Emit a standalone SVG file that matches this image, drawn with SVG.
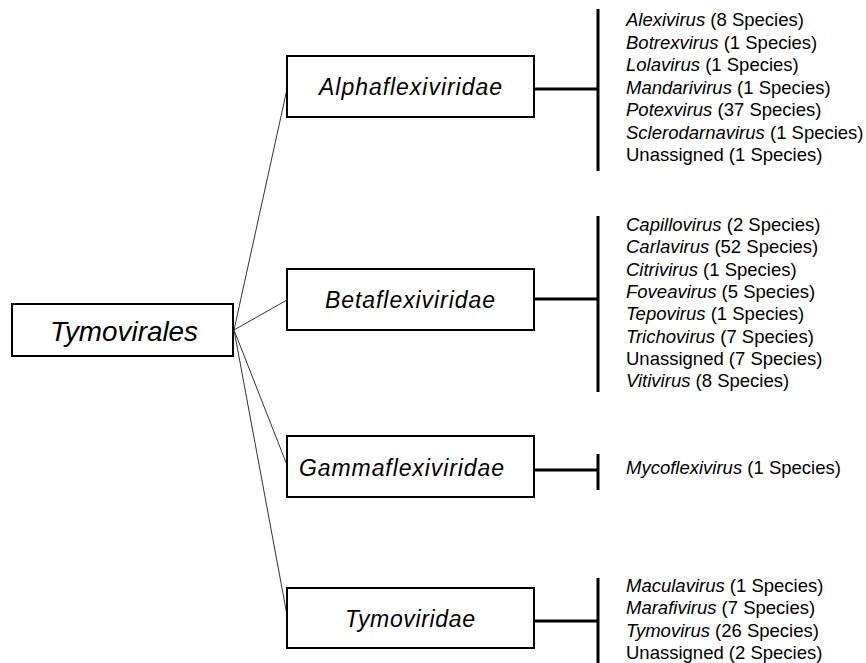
<svg xmlns="http://www.w3.org/2000/svg" width="866" height="663" viewBox="0 0 866 663">
<style>
.box{fill:#fff;stroke:#000;stroke-width:2}
.lbl{font-family:"Liberation Sans",Arial,sans-serif;font-style:italic;fill:#000}
.sp{font-family:"Liberation Sans",Arial,sans-serif;font-size:18.5px;fill:#000}
.i{font-style:italic}
.thin{stroke:#333;stroke-width:1;fill:none}
.thick{stroke:#000;stroke-width:3;fill:none}
</style>
<rect width="866" height="663" fill="#fff"/>
<g id="connectors">
<line class="thin" x1="234" y1="330" x2="287" y2="89"/>
<line class="thin" x1="234" y1="330" x2="287" y2="300"/>
<line class="thin" x1="234" y1="330" x2="287" y2="465"/>
<line class="thin" x1="234" y1="330" x2="287" y2="615"/>
<line class="thick" x1="535" y1="89" x2="598" y2="89"/>
<line class="thick" x1="598" y1="9" x2="598" y2="171"/>
<line class="thick" x1="535" y1="299" x2="598" y2="299"/>
<line class="thick" x1="598" y1="216" x2="598" y2="392"/>
<line class="thick" x1="535" y1="470" x2="598" y2="470"/>
<line class="thick" x1="598" y1="454" x2="598" y2="490"/>
<line class="thick" x1="535" y1="621" x2="598" y2="621"/>
<line class="thick" x1="598" y1="578" x2="598" y2="663"/>
</g>
<g id="tymovirales">
<rect class="box" x="12" y="304" width="221" height="52"/>
<text class="lbl" x="50" y="341" font-size="27.5" textLength="148" lengthAdjust="spacingAndGlyphs">Tymovirales</text>
</g>
<g id="alphaflexiviridae">
<rect class="box" x="287" y="56" width="247" height="61"/>
<text class="lbl" x="319" y="95" font-size="23" textLength="183" lengthAdjust="spacing">Alphaflexiviridae</text>
</g>
<g id="betaflexiviridae">
<rect class="box" x="287" y="269" width="247" height="61"/>
<text class="lbl" x="325" y="307.5" font-size="23" textLength="170" lengthAdjust="spacing">Betaflexiviridae</text>
</g>
<g id="gammaflexiviridae">
<rect class="box" x="287" y="436" width="247" height="61"/>
<text class="lbl" x="299" y="476" font-size="23" textLength="205" lengthAdjust="spacing">Gammaflexiviridae</text>
</g>
<g id="tymoviridae">
<rect class="box" x="287" y="588" width="247" height="60"/>
<text class="lbl" x="345" y="626.5" font-size="23" textLength="130" lengthAdjust="spacing">Tymoviridae</text>
</g>
<g id="alpha-genera" class="sp">
<text x="626" y="26"><tspan class="i">Alexivirus</tspan> (8 Species)</text>
<text x="626" y="48.5"><tspan class="i">Botrexvirus</tspan> (1 Species)</text>
<text x="626" y="71"><tspan class="i">Lolavirus</tspan> (1 Species)</text>
<text x="626" y="93.5"><tspan class="i">Mandarivirus</tspan> (1 Species)</text>
<text x="626" y="116"><tspan class="i">Potexvirus</tspan> (37 Species)</text>
<text x="626" y="138.5"><tspan class="i">Sclerodarnavirus</tspan> (1 Species)</text>
<text x="626" y="161">Unassigned (1 Species)</text>
</g>
<g id="beta-genera" class="sp">
<text x="626" y="231"><tspan class="i">Capillovirus</tspan> (2 Species)</text>
<text x="626" y="253.3"><tspan class="i">Carlavirus</tspan> (52 Species)</text>
<text x="626" y="275.6"><tspan class="i">Citrivirus</tspan> (1 Species)</text>
<text x="626" y="297.9"><tspan class="i">Foveavirus</tspan> (5 Species)</text>
<text x="626" y="320.2"><tspan class="i">Tepovirus</tspan> (1 Species)</text>
<text x="626" y="342.5"><tspan class="i">Trichovirus</tspan> (7 Species)</text>
<text x="626" y="364.8">Unassigned (7 Species)</text>
<text x="626" y="387.1"><tspan class="i">Vitivirus</tspan> (8 Species)</text>
</g>
<g id="gamma-genera" class="sp">
<text x="626" y="474"><tspan class="i">Mycoflexivirus</tspan> (1 Species)</text>
</g>
<g id="tymo-genera" class="sp">
<text x="626" y="592"><tspan class="i">Maculavirus</tspan> (1 Species)</text>
<text x="626" y="614.3"><tspan class="i">Marafivirus</tspan> (7 Species)</text>
<text x="626" y="636.6"><tspan class="i">Tymovirus</tspan> (26 Species)</text>
<text x="626" y="658.9">Unassigned (2 Species)</text>
</g>
</svg>
